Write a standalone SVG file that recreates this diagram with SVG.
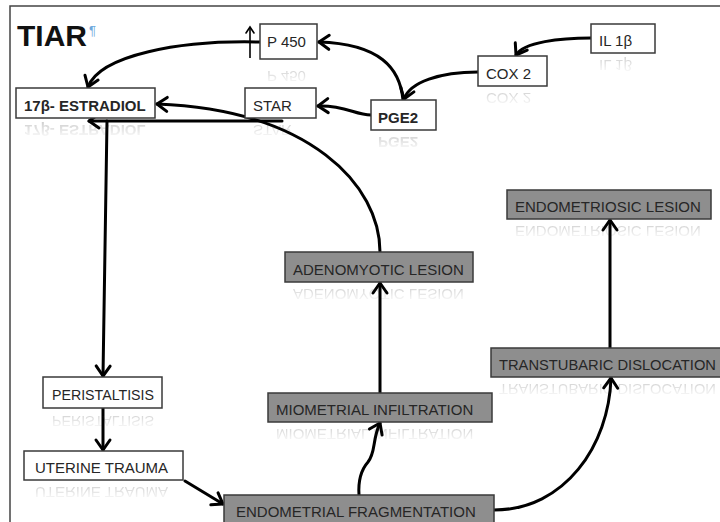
<svg xmlns="http://www.w3.org/2000/svg" xmlns:xlink="http://www.w3.org/1999/xlink" width="720" height="522" viewBox="0 0 720 522">
<style>
.box{fill:#ffffff;stroke:#3a3a3a;stroke-width:1.5}
.gbox{fill:#8e8e8e;stroke:#3a3a3a;stroke-width:1.5}
.lbl{font-family:"Liberation Sans",Arial,sans-serif;font-size:15px;fill:#262626}
.b{font-weight:bold}
.con{fill:none;stroke:#000;stroke-width:3;stroke-linecap:round}
.refl{opacity:0.22}
</style>
<defs>
<marker id="arr" viewBox="0 0 12 16" refX="11" refY="8" markerWidth="12" markerHeight="16" markerUnits="userSpaceOnUse" orient="auto" overflow="visible">
<path d="M1,1 L11,8 L1,15" fill="none" stroke="#000" stroke-width="3" stroke-linejoin="round" stroke-linecap="round"/>
</marker>
<marker id="arrS" viewBox="0 0 8 10" refX="7" refY="5" markerWidth="8" markerHeight="10" markerUnits="userSpaceOnUse" orient="auto" overflow="visible">
<path d="M1,1 L7,5 L1,9" fill="none" stroke="#000" stroke-width="1.6" stroke-linecap="round"/>
</marker>
<linearGradient id="fade" x1="0" y1="0" x2="0" y2="1">
<stop offset="0" stop-color="#fff" stop-opacity="1"/>
<stop offset="1" stop-color="#fff" stop-opacity="0"/>
</linearGradient>
<mask id="rm" maskContentUnits="objectBoundingBox">
<rect x="0" y="0" width="1" height="1" fill="url(#fade)"/>
</mask>
</defs>
<rect x="0" y="0" width="720" height="522" fill="#ffffff"/>
<path d="M10,522 L10,6 L720,6" fill="none" stroke="#444" stroke-width="1.5"/>

<g id="title">
<text x="17" y="46" font-family="'Liberation Sans',Arial,sans-serif" font-size="30" font-weight="bold" fill="#111">TIAR</text>
<text x="89" y="35" font-family="'Liberation Sans',Arial,sans-serif" font-size="13" fill="#6fa8dc">¶</text>
</g>

<g id="connectors">
<path class="con" d="M260,42 C180,40 100,55 88,87" marker-end="url(#arr)"/>
<path d="M250,58 L250,27" fill="none" stroke="#000" stroke-width="1.6" marker-end="url(#arrS)"/>
<path class="con" d="M403,100 C400,68 380,44 319,42" marker-end="url(#arr)"/>
<path class="con" d="M478,72 C440,72 410,82 404,99" marker-end="url(#arr)"/>
<path class="con" d="M591,38 C560,38 524,42 516,55" marker-end="url(#arr)"/>
<path class="con" d="M371,115 C355,115 345,105 318,106" marker-end="url(#arr)"/>
<path class="con" d="M282,121 L89,121" marker-end="url(#arr)"/>
<path class="con" d="M380,252 C380,185 310,110 157,104" marker-end="url(#arr)"/>
<path class="con" d="M107,121 L103,376" marker-end="url(#arr)"/>
<path class="con" d="M103,408 L103,450" marker-end="url(#arr)"/>
<path class="con" d="M185,481 L223,504" marker-end="url(#arr)"/>
<path class="con" d="M359,495 C358,480 361,470 368,462 C376,452 372,440 380,423" marker-end="url(#arr)"/>
<path class="con" d="M380,393 L380,283" marker-end="url(#arr)"/>
<path class="con" d="M494,510 C565,510 609,445 611,378" marker-end="url(#arr)"/>
<path class="con" d="M610,348 L610,220" marker-end="url(#arr)"/>
</g>

<g id="p450">
<rect class="box" x="260" y="24" width="57" height="35"/>
<text id="t-p450" class="lbl" x="267" y="47">P 450</text>
<g mask="url(#rm)"><use xlink:href="#t-p450" class="refl" transform="translate(0,118) scale(1,-1)"/></g>
</g>

<g id="estradiol">
<rect class="box" x="16" y="88" width="139" height="30"/>
<text id="t-estr" class="lbl b" x="24" y="111" font-size="14.3">17β- ESTRADIOL</text>
<g mask="url(#rm)"><use xlink:href="#t-estr" class="refl" transform="translate(0,236) scale(1,-1)"/></g>
</g>

<g id="star">
<rect class="box" x="245" y="88" width="71" height="30"/>
<text id="t-star" class="lbl" x="253" y="111">STAR</text>
<g mask="url(#rm)"><use xlink:href="#t-star" class="refl" transform="translate(0,236) scale(1,-1)"/></g>
</g>

<g id="pge2">
<rect class="box" x="371" y="100" width="65" height="30"/>
<text id="t-pge2" class="lbl b" x="378" y="123">PGE2</text>
<g mask="url(#rm)"><use xlink:href="#t-pge2" class="refl" transform="translate(0,260) scale(1,-1)"/></g>
</g>

<g id="cox2">
<rect class="box" x="478" y="56" width="69" height="30"/>
<text id="t-cox2" class="lbl" x="486" y="79">COX 2</text>
<g mask="url(#rm)"><use xlink:href="#t-cox2" class="refl" transform="translate(0,172) scale(1,-1)"/></g>
</g>

<g id="il1b">
<rect class="box" x="591" y="24" width="64" height="29"/>
<text id="t-il1b" class="lbl" x="599" y="46">IL 1β</text>
<g mask="url(#rm)"><use xlink:href="#t-il1b" class="refl" transform="translate(0,106) scale(1,-1)"/></g>
</g>

<g id="endometriosic">
<rect class="gbox" x="507" y="190" width="204" height="29"/>
<text id="t-endol" class="lbl" x="515" y="212">ENDOMETRIOSIC LESION</text>
<g mask="url(#rm)"><use xlink:href="#t-endol" class="refl" transform="translate(0,438) scale(1,-1)"/></g>
</g>

<g id="adenomyotic">
<rect class="gbox" x="285" y="252" width="188" height="30"/>
<text id="t-aden" class="lbl" x="293" y="275">ADENOMYOTIC LESION</text>
<g mask="url(#rm)"><use xlink:href="#t-aden" class="refl" transform="translate(0,564) scale(1,-1)"/></g>
</g>

<g id="transtubaric">
<rect class="gbox" x="491" y="348" width="235" height="29"/>
<text id="t-trans" class="lbl" x="499" y="370" textLength="217" lengthAdjust="spacingAndGlyphs">TRANSTUBARIC DISLOCATION</text>
<g mask="url(#rm)"><use xlink:href="#t-trans" class="refl" transform="translate(0,754) scale(1,-1)"/></g>
</g>

<g id="miometrial">
<rect class="gbox" x="268" y="393" width="224" height="29"/>
<text id="t-miom" class="lbl" x="276" y="415">MIOMETRIAL INFILTRATION</text>
<g mask="url(#rm)"><use xlink:href="#t-miom" class="refl" transform="translate(0,844) scale(1,-1)"/></g>
</g>

<g id="peristaltisis">
<rect class="box" x="43" y="377" width="119" height="31"/>
<text id="t-peri" class="lbl" x="52" y="400" textLength="102" lengthAdjust="spacingAndGlyphs">PERISTALTISIS</text>
<g mask="url(#rm)"><use xlink:href="#t-peri" class="refl" transform="translate(0,816) scale(1,-1)"/></g>
</g>

<g id="uterine">
<rect class="box" x="24" y="451" width="159" height="29"/>
<text id="t-uter" class="lbl" x="35" y="473">UTERINE TRAUMA</text>
<g mask="url(#rm)"><use xlink:href="#t-uter" class="refl" transform="translate(0,960) scale(1,-1)"/></g>
</g>

<g id="fragmentation">
<rect class="gbox" x="224" y="495" width="270" height="40"/>
<text class="lbl" x="236" y="517">ENDOMETRIAL FRAGMENTATION</text>
</g>
</svg>
